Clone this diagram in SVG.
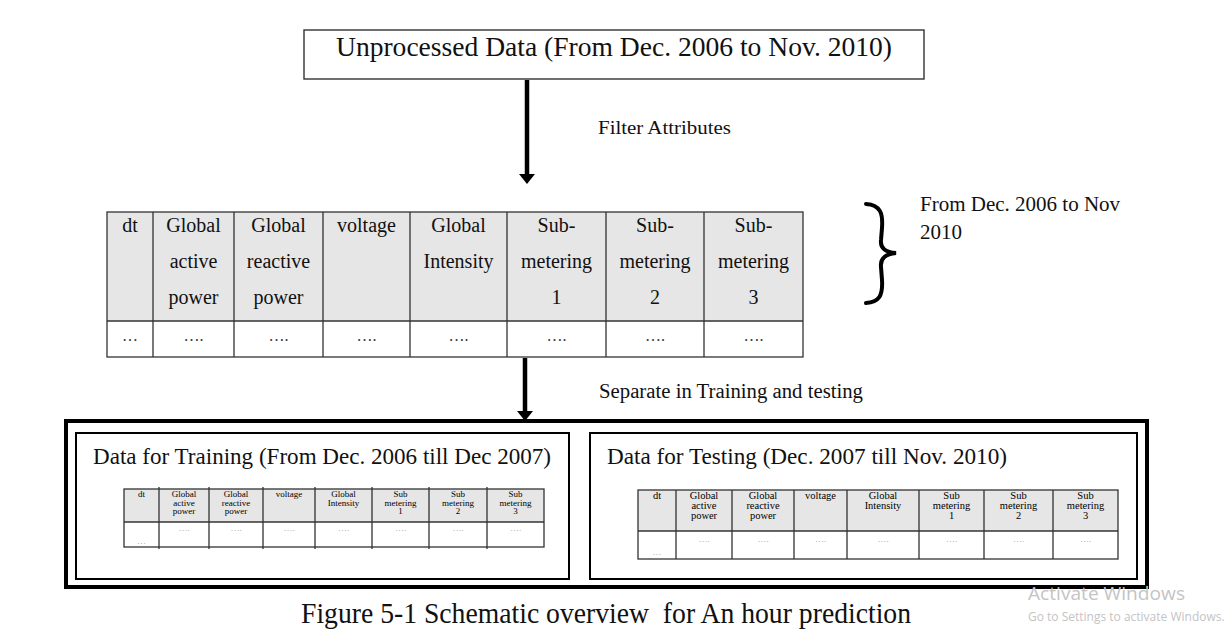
<svg xmlns="http://www.w3.org/2000/svg" width="1229" height="638" viewBox="0 0 1229 638">
  <style>
    .serif { font-family: "Liberation Serif", "Times New Roman", serif; fill: #111; }
    .hdr { font-size: 20px; text-anchor: middle; }
    .dots { font-size: 16px; text-anchor: middle; fill: #333; }
    .sm { font-size: 9px; text-anchor: middle; fill: #000; }
    .smr { font-size: 10.5px; text-anchor: middle; fill: #000; }
    .smdots { font-size: 9px; text-anchor: middle; fill: #999; }
    .grid { stroke: #333; stroke-width: 1.3; fill: none; }
    .hfill { fill: #e6e6e6; }
    .box { fill: #fff; stroke: #333; stroke-width: 1.4; }
    .frame { fill: #fff; stroke: #000; stroke-width: 2; }
    .shaft { stroke: #000; stroke-width: 4.5; }
    .wm { font-family: "Open Sans", "Noto Sans", sans-serif; fill: #c4c4c4; }
  </style>
  <defs>
    <!-- arrowhead drawn along +x so orient="auto" points it down the shaft -->
    <marker id="head" markerUnits="userSpaceOnUse" markerWidth="10" markerHeight="16" refX="0" refY="8" orient="auto" viewBox="0 0 10 16">
      <path d="M0,0 L10,8 L0,16 Z" fill="#000"/>
    </marker>
  </defs>
  <rect width="1229" height="638" fill="#fff"/>

  <!-- source data box -->
  <g id="unprocessed">
    <rect class="box" x="304" y="30" width="620" height="49"/>
    <text class="serif" x="614" y="56" font-size="27" text-anchor="middle" textLength="556" lengthAdjust="spacingAndGlyphs">Unprocessed Data (From Dec. 2006 to Nov. 2010)</text>
  </g>

  <!-- arrows and their labels -->
  <g id="connectors">
    <line class="shaft" x1="527" y1="80" x2="527" y2="174" marker-end="url(#head)"/>
    <line class="shaft" x1="525" y1="358" x2="525" y2="411" marker-end="url(#head)"/>
    <text class="serif" x="598" y="134" font-size="19" textLength="133" lengthAdjust="spacingAndGlyphs">Filter Attributes</text>
    <text class="serif" x="599" y="398" font-size="20" textLength="264" lengthAdjust="spacingAndGlyphs">Separate in Training and testing</text>
  </g>

  <!-- filtered attribute table -->
  <g id="attribute-table">
    <rect class="hfill" x="107" y="212" width="696" height="109"/>
    <rect x="107" y="321" width="696" height="36" fill="#fff"/>
    <rect class="grid" x="107" y="212" width="696" height="145"/>
    <line class="grid" x1="107" y1="321" x2="803" y2="321"/>
    <path class="grid" d="M153,212V357 M234,212V357 M323,212V357 M410,212V357 M507,212V357 M606,212V357 M704,212V357"/>
    <g class="serif hdr">
      <text x="130" y="232">dt</text>
      <text x="193.5" y="232">Global</text>
      <text x="193.5" y="268">active</text>
      <text x="193.5" y="304">power</text>
      <text x="278.5" y="232">Global</text>
      <text x="278.5" y="268">reactive</text>
      <text x="278.5" y="304">power</text>
      <text x="366.5" y="232">voltage</text>
      <text x="458.5" y="232">Global</text>
      <text x="458.5" y="268">Intensity</text>
      <text x="556.5" y="232">Sub-</text>
      <text x="556.5" y="268">metering</text>
      <text x="556.5" y="304">1</text>
      <text x="655" y="232">Sub-</text>
      <text x="655" y="268">metering</text>
      <text x="655" y="304">2</text>
      <text x="753.5" y="232">Sub-</text>
      <text x="753.5" y="268">metering</text>
      <text x="753.5" y="304">3</text>
    </g>
    <g class="serif dots">
      <text x="130" y="341">…</text>
      <text x="193.5" y="341">….</text>
      <text x="278.5" y="341">….</text>
      <text x="366.5" y="341">….</text>
      <text x="458.5" y="341">….</text>
      <text x="556.5" y="341">….</text>
      <text x="655" y="341">….</text>
      <text x="753.5" y="341">….</text>
    </g>
  </g>

  <!-- period brace -->
  <g id="period-note">
    <path d="M866,204 C881,205 883,214 882,228 L881,240 C880,249 886,252 896,253 C886,254 880,258 881,267 L882,280 C883,296 879,302 866,303" fill="none" stroke="#000" stroke-width="4" stroke-linecap="round"/>
    <text class="serif" x="920" y="211" font-size="21">From Dec. 2006 to Nov</text>
    <text class="serif" x="920" y="239" font-size="21">2010</text>
  </g>

  <!-- split container -->
  <g id="split">
    <rect x="66" y="421" width="1081" height="166" fill="#fff" stroke="#000" stroke-width="4"/>
  </g>

  <!-- training set -->
  <g id="training">
    <rect class="frame" x="76" y="433" width="493" height="146"/>
    <text class="serif" x="93" y="464" font-size="23" textLength="458" lengthAdjust="spacingAndGlyphs">Data for Training (From Dec. 2006 till Dec 2007)</text>
    <rect class="hfill" x="124" y="489" width="420" height="33"/>
    <rect class="grid" x="124" y="489" width="420" height="58"/>
    <line class="grid" x1="124" y1="522" x2="544" y2="522"/>
    <path class="grid" d="M159,487V549 M209,487V549 M263,487V549 M315,487V549 M372,487V549 M429,487V549 M487,487V549"/>
    <g class="serif sm">
      <text x="141.5" y="497">dt</text>
      <text x="184" y="497">Global</text>
      <text x="184" y="505.5">active</text>
      <text x="184" y="514">power</text>
      <text x="236" y="497">Global</text>
      <text x="236" y="505.5">reactive</text>
      <text x="236" y="514">power</text>
      <text x="289" y="497">voltage</text>
      <text x="343.5" y="497">Global</text>
      <text x="343.5" y="505.5">Intensity</text>
      <text x="400.5" y="497">Sub</text>
      <text x="400.5" y="505.5">metering</text>
      <text x="400.5" y="514">1</text>
      <text x="458" y="497">Sub</text>
      <text x="458" y="505.5">metering</text>
      <text x="458" y="514">2</text>
      <text x="515.5" y="497">Sub</text>
      <text x="515.5" y="505.5">metering</text>
      <text x="515.5" y="514">3</text>
    </g>
    <g class="serif smdots">
      <text x="141.5" y="544">…</text>
      <text x="184" y="531">….</text>
      <text x="236" y="531">….</text>
      <text x="289" y="531">….</text>
      <text x="343.5" y="531">….</text>
      <text x="400.5" y="531">….</text>
      <text x="458" y="531">….</text>
      <text x="515.5" y="531">….</text>
    </g>
  </g>

  <!-- testing set -->
  <g id="testing">
    <rect class="frame" x="590" y="433" width="547" height="146"/>
    <text class="serif" x="607" y="464" font-size="23" textLength="400" lengthAdjust="spacingAndGlyphs">Data for Testing (Dec. 2007 till Nov. 2010)</text>
    <rect class="hfill" x="638" y="490" width="480" height="41"/>
    <rect class="grid" x="638" y="490" width="480" height="69"/>
    <line class="grid" x1="638" y1="531" x2="1118" y2="531"/>
    <path class="grid" d="M676,490V559 M732,490V559 M794,490V559 M847,490V559 M919,490V559 M984,490V559 M1053,490V559"/>
    <g class="serif smr">
      <text x="657" y="499">dt</text>
      <text x="704" y="499">Global</text>
      <text x="704" y="509">active</text>
      <text x="704" y="519">power</text>
      <text x="763" y="499">Global</text>
      <text x="763" y="509">reactive</text>
      <text x="763" y="519">power</text>
      <text x="820.5" y="499">voltage</text>
      <text x="883" y="499">Global</text>
      <text x="883" y="509">Intensity</text>
      <text x="951.5" y="499">Sub</text>
      <text x="951.5" y="509">metering</text>
      <text x="951.5" y="519">1</text>
      <text x="1018.5" y="499">Sub</text>
      <text x="1018.5" y="509">metering</text>
      <text x="1018.5" y="519">2</text>
      <text x="1085.5" y="499">Sub</text>
      <text x="1085.5" y="509">metering</text>
      <text x="1085.5" y="519">3</text>
    </g>
    <g class="serif smdots">
      <text x="657" y="555">…</text>
      <text x="704" y="542">….</text>
      <text x="763" y="542">….</text>
      <text x="820.5" y="542">….</text>
      <text x="883" y="542">….</text>
      <text x="951.5" y="542">….</text>
      <text x="1018.5" y="542">….</text>
      <text x="1085.5" y="542">….</text>
    </g>
  </g>

  <!-- caption -->
  <text class="serif" x="301" y="623" font-size="29" style="white-space:pre" textLength="610" lengthAdjust="spacingAndGlyphs">Figure 5-1 Schematic overview  for An hour prediction</text>

  <!-- system overlay text -->
  <text class="wm" x="1028" y="600" font-size="19" textLength="157" lengthAdjust="spacingAndGlyphs">Activate Windows</text>
  <text class="wm" x="1028" y="621" font-size="12">Go to Settings to activate Windows.</text>
</svg>
